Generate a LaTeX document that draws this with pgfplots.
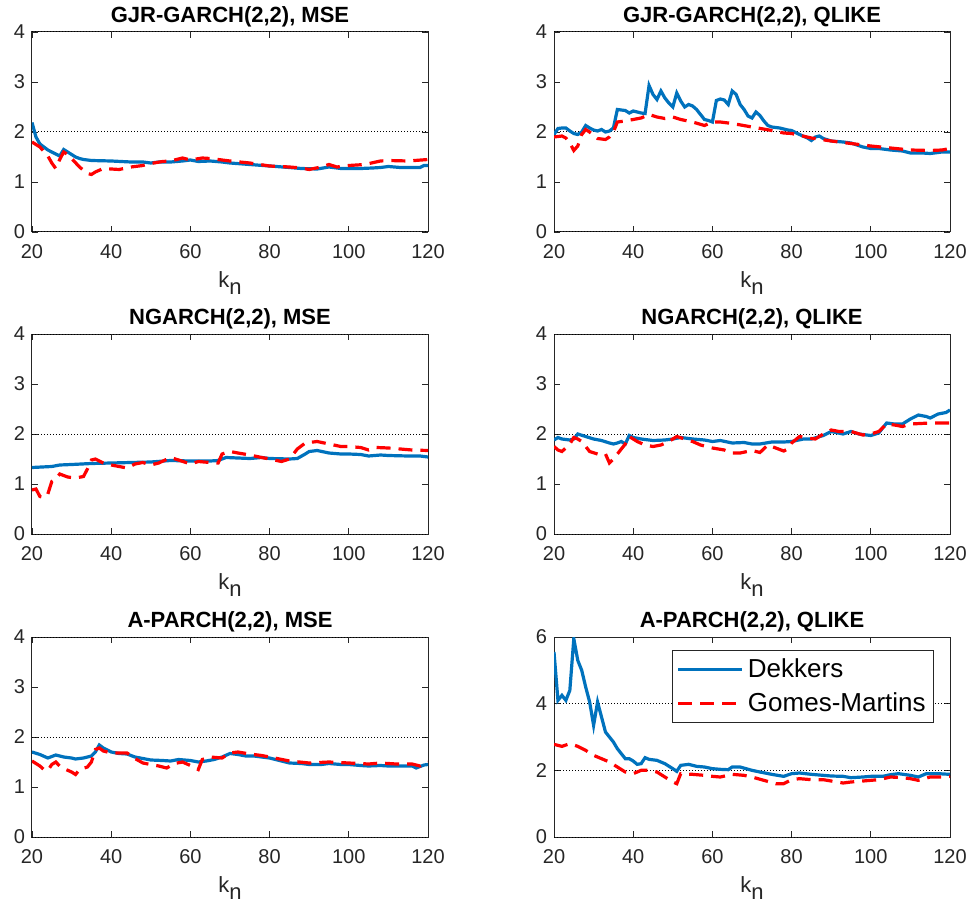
\documentclass[border=0pt]{standalone}
\usepackage{pgfplots}
\pgfplotsset{compat=1.18}
\usepackage{fontspec}
\setmainfont{Liberation Sans}
\definecolor{mblue}{rgb}{0,0.447,0.741}
\definecolor{mred}{rgb}{1,0,0}
\definecolor{mgray}{rgb}{0.15,0.15,0.15}
\pgfplotsset{
 panel/.style={
  width=198pt, height=100pt, scale only axis,
  anchor=south west,
  xmin=20, xmax=120, ymin=0, ymax=4,
  xtick={20,40,...,120}, ytick={0,1,2,3,4},
  tick align=inside, major tick length=3pt,
  every tick/.style={mgray, line width=0.4pt},
  axis line style={mgray, line width=0.5pt},
  tick label style={font=\fontsize{10}{12}\selectfont, text=mgray},
  xticklabel style={yshift=-2.5pt},
  /pgf/number format/assume math mode=true,
  title style={font=\bfseries\fontsize{11}{13}\selectfont, yshift=-7pt},
  xlabel={k\raisebox{-0.55ex}{n}},
  xlabel style={font=\fontsize{11}{13}\selectfont, text=mgray, yshift=0pt},
  clip=true,
 },
 dek/.style={mblue, line width=1.6pt},
 gm/.style={mred, line width=1.6pt, dash pattern=on 7pt off 4pt},
 refl/.style={black, line width=0.5pt, dash pattern=on 0.5pt off 1pt, forget plot},
}
\begin{document}
\begin{tikzpicture}
\path[use as bounding box] (0pt,0pt) rectangle (484.5pt,-451.5pt);
% Panel 1
\begin{axis}[panel, at={(16pt,-116pt)}, title={GJR-GARCH(2,2), MSE}]
\addplot[refl] coordinates {(20,2) (120,2)};
\addplot[refl] coordinates {(20,4) (120,4)};
\addplot[refl] coordinates {(20,0) (120,0)};
\addplot[dek] coordinates {(20,2.19)(21,1.9)(22,1.76)(23,1.7)(24,1.64)(25,1.6)(26,1.56)(27,1.52)(28,1.65)(29,1.6)(30,1.55)(31,1.5)(32,1.47)(33,1.45)(35,1.43)(40,1.42)(45,1.4)(48,1.4)(50,1.38)(52,1.4)(55,1.4)(58,1.42)(60,1.44)(62,1.41)(65,1.42)(68,1.4)(70,1.38)(75,1.35)(80,1.32)(85,1.29)(88,1.27)(92,1.26)(95,1.3)(98,1.27)(100,1.27)(103,1.27)(106,1.28)(108,1.29)(110,1.31)(113,1.29)(116,1.29)(118,1.29)(119,1.33)(120,1.33)};
\addplot[gm] coordinates {(20,1.8)(22,1.7)(24,1.52)(25,1.38)(26,1.27)(27,1.45)(28,1.6)(29,1.55)(30,1.47)(32,1.3)(34,1.17)(35,1.15)(36,1.2)(38,1.27)(40,1.26)(42,1.25)(45,1.3)(48,1.33)(50,1.37)(53,1.41)(55,1.42)(58,1.48)(60,1.44)(63,1.48)(65,1.47)(70,1.42)(75,1.38)(80,1.32)(85,1.3)(88,1.28)(90,1.25)(93,1.3)(95,1.35)(97,1.3)(100,1.33)(104,1.35)(108,1.42)(110,1.43)(115,1.42)(120,1.45)};
\end{axis}
% Panel 2
\begin{axis}[panel, at={(277pt,-116pt)}, title={GJR-GARCH(2,2), QLIKE}]
\addplot[refl] coordinates {(20,2) (120,2)};
\addplot[refl] coordinates {(20,4) (120,4)};
\addplot[refl] coordinates {(20,0) (120,0)};
\addplot[dek] coordinates {(20,1.95)(21,2.07)(22,2.08)(23,2.08)(24,2.02)(25,1.97)(26,1.95)(27,2.0)(28,2.13)(29,2.08)(30,2.04)(31,2.02)(32,2.05)(33,2.0)(34,2.02)(35,2.08)(36,2.45)(37,2.44)(38,2.43)(39,2.38)(40,2.42)(41,2.4)(42,2.38)(43,2.37)(44,2.93)(45,2.75)(46,2.65)(47,2.82)(48,2.68)(49,2.58)(50,2.5)(51,2.78)(52,2.62)(53,2.5)(54,2.55)(55,2.52)(56,2.45)(57,2.35)(58,2.25)(59,2.23)(60,2.2)(61,2.63)(62,2.66)(63,2.64)(64,2.55)(65,2.82)(66,2.75)(67,2.55)(68,2.45)(69,2.32)(70,2.28)(71,2.4)(72,2.33)(73,2.22)(74,2.13)(75,2.1)(77,2.08)(79,2.04)(80,2.03)(82,1.95)(84,1.88)(85,1.83)(86,1.9)(87,1.92)(88,1.87)(90,1.82)(93,1.8)(95,1.78)(98,1.7)(100,1.67)(102,1.67)(105,1.64)(108,1.62)(110,1.58)(113,1.58)(115,1.57)(118,1.6)(120,1.6)};
\addplot[gm] coordinates {(20,1.9)(22,1.92)(23,1.88)(24,1.78)(25,1.63)(26,1.72)(27,1.95)(28,2.05)(29,2.0)(30,1.93)(31,1.87)(33,1.85)(34,1.9)(35,2.0)(36,2.2)(38,2.22)(40,2.25)(42,2.28)(44,2.35)(46,2.3)(48,2.27)(50,2.3)(52,2.25)(55,2.2)(58,2.13)(60,2.2)(62,2.2)(65,2.17)(70,2.1)(75,2.03)(78,1.98)(80,1.97)(85,1.88)(90,1.82)(95,1.77)(100,1.72)(105,1.68)(110,1.64)(115,1.63)(118,1.64)(120,1.67)};
\end{axis}
% Panel 3
\begin{axis}[panel, at={(16pt,-267pt)}, title={NGARCH(2,2), MSE}]
\addplot[refl] coordinates {(20,2) (120,2)};
\addplot[refl] coordinates {(20,4) (120,4)};
\addplot[refl] coordinates {(20,0) (120,0)};
\addplot[dek] coordinates {(20,1.33)(25,1.35)(27,1.38)(30,1.39)(35,1.41)(40,1.42)(45,1.43)(50,1.44)(55,1.47)(60,1.46)(65,1.46)(67,1.47)(69,1.53)(72,1.52)(75,1.51)(78,1.53)(80,1.51)(85,1.5)(87,1.51)(89,1.6)(90,1.65)(92,1.67)(95,1.62)(98,1.6)(100,1.6)(103,1.59)(105,1.56)(108,1.58)(110,1.57)(115,1.56)(118,1.56)(120,1.54)};
\addplot[gm] coordinates {(20,0.88)(21,0.9)(22,0.75)(23,0.73)(24,0.8)(25,1.05)(26,1.1)(27,1.2)(29,1.14)(31,1.12)(33,1.15)(34,1.3)(35,1.48)(36,1.5)(38,1.42)(40,1.38)(42,1.35)(44,1.32)(46,1.4)(48,1.43)(50,1.38)(52,1.42)(55,1.53)(57,1.48)(60,1.4)(62,1.45)(65,1.43)(67,1.42)(68,1.6)(70,1.65)(72,1.62)(75,1.58)(78,1.53)(80,1.5)(83,1.45)(85,1.5)(87,1.7)(89,1.82)(92,1.85)(95,1.8)(98,1.75)(100,1.75)(103,1.73)(105,1.68)(107,1.73)(110,1.72)(113,1.7)(116,1.68)(120,1.67)};
\end{axis}
% Panel 4
\begin{axis}[panel, at={(277pt,-267pt)}, title={NGARCH(2,2), QLIKE}]
\addplot[refl] coordinates {(20,2) (120,2)};
\addplot[refl] coordinates {(20,4) (120,4)};
\addplot[refl] coordinates {(20,0) (120,0)};
\addplot[dek] coordinates {(20,1.88)(21,1.93)(22,1.9)(24,1.88)(25,1.9)(26,2.0)(28,1.95)(30,1.9)(32,1.87)(34,1.82)(35,1.8)(36,1.82)(37,1.85)(38,1.8)(39,1.97)(40,1.93)(42,1.9)(45,1.87)(48,1.88)(50,1.9)(52,1.93)(55,1.9)(58,1.88)(60,1.85)(62,1.87)(65,1.82)(68,1.83)(70,1.8)(72,1.8)(75,1.84)(78,1.84)(80,1.85)(83,1.9)(85,1.9)(88,1.97)(90,2.05)(93,2.0)(95,2.05)(97,2.0)(100,1.97)(102,2.02)(104,2.22)(106,2.2)(108,2.2)(110,2.3)(112,2.38)(114,2.35)(115,2.32)(117,2.4)(119,2.43)(120,2.48)};
\addplot[gm] coordinates {(20,1.75)(21,1.68)(22,1.65)(24,1.8)(25,1.93)(26,1.9)(27,1.85)(29,1.65)(31,1.6)(33,1.6)(34,1.42)(35,1.5)(37,1.7)(38,1.8)(39,1.95)(41,1.85)(43,1.78)(45,1.75)(47,1.78)(49,1.85)(51,1.95)(53,1.9)(55,1.85)(57,1.78)(60,1.72)(63,1.68)(65,1.62)(67,1.62)(70,1.67)(72,1.63)(74,1.78)(76,1.72)(78,1.66)(79,1.7)(80,1.82)(82,1.95)(84,1.92)(86,1.9)(88,2.0)(90,2.08)(92,2.05)(95,2.05)(98,1.98)(100,2.0)(102,2.05)(104,2.2)(106,2.18)(108,2.15)(110,2.2)(115,2.22)(120,2.22)};
\end{axis}
% Panel 5
\begin{axis}[panel, at={(16pt,-418.5pt)}, title={A-PARCH(2,2), MSE}]
\addplot[refl] coordinates {(20,2) (120,2)};
\addplot[refl] coordinates {(20,4) (120,4)};
\addplot[refl] coordinates {(20,0) (120,0)};
\addplot[dek] coordinates {(20,1.7)(22,1.65)(24,1.58)(26,1.64)(28,1.6)(30,1.58)(31,1.56)(33,1.58)(35,1.62)(36,1.7)(37,1.84)(38,1.78)(40,1.7)(42,1.67)(44,1.66)(46,1.6)(48,1.57)(50,1.54)(53,1.53)(55,1.52)(57,1.55)(60,1.53)(62,1.5)(64,1.52)(66,1.55)(68,1.6)(70,1.67)(72,1.65)(74,1.62)(76,1.62)(78,1.6)(80,1.58)(83,1.52)(85,1.48)(88,1.47)(90,1.45)(93,1.45)(95,1.47)(98,1.45)(100,1.45)(103,1.43)(105,1.42)(108,1.43)(110,1.42)(113,1.42)(116,1.42)(117,1.38)(119,1.44)(120,1.45)};
\addplot[gm] coordinates {(20,1.52)(22,1.42)(23,1.35)(24,1.33)(25,1.45)(26,1.5)(27,1.42)(28,1.37)(30,1.3)(31,1.25)(32,1.35)(34,1.4)(35,1.5)(36,1.75)(37,1.78)(38,1.72)(40,1.68)(42,1.68)(44,1.68)(46,1.57)(48,1.48)(50,1.45)(52,1.42)(54,1.38)(56,1.47)(58,1.5)(60,1.43)(62,1.35)(63,1.55)(65,1.6)(68,1.58)(70,1.68)(72,1.7)(75,1.66)(78,1.63)(80,1.6)(85,1.52)(90,1.48)(95,1.5)(100,1.48)(105,1.46)(108,1.48)(112,1.46)(116,1.46)(118,1.42)(120,1.5)};
\end{axis}
% Panel 6
\begin{axis}[panel, at={(277pt,-418.5pt)}, title={A-PARCH(2,2), QLIKE},
  ymax=6, ytick={0,2,4,6},
  legend style={at={(rel axis cs:0.96,0.935)}, anchor=north east,
    font=\fontsize{13}{15}\selectfont, draw=mgray, line width=0.5pt,
    text=black, inner sep=2pt, row sep=2pt},
  legend cell align=left,
  legend image code/.code={\draw[#1] (0pt,0pt) -- (32pt,0pt);}]
\addplot[refl] coordinates {(20,2) (120,2)};
\addplot[refl] coordinates {(20,4) (120,4)};
\addplot[refl] coordinates {(20,0) (120,0)};
\addplot[dek] coordinates {(20,5.55)(21,4.1)(22,4.25)(23,4.1)(24,4.4)(25,5.95)(26,5.3)(27,5.0)(28,4.5)(29,4.05)(30,3.35)(31,4.05)(32,3.6)(33,3.15)(34,3.0)(35,2.85)(36,2.65)(37,2.5)(38,2.35)(39,2.35)(40,2.28)(41,2.18)(42,2.2)(43,2.38)(44,2.33)(46,2.3)(48,2.2)(50,2.05)(51,1.97)(52,2.15)(54,2.18)(56,2.12)(58,2.1)(60,2.05)(62,2.03)(64,2.02)(65,2.1)(67,2.1)(70,2.0)(72,1.95)(75,1.88)(78,1.82)(80,1.9)(82,1.92)(85,1.88)(88,1.85)(90,1.83)(93,1.82)(95,1.78)(98,1.8)(100,1.82)(103,1.82)(105,1.87)(107,1.9)(110,1.85)(112,1.8)(114,1.9)(117,1.9)(120,1.88)};
\addlegendentry{Dekkers}
\addplot[gm] coordinates {(20,2.78)(22,2.72)(24,2.8)(26,2.72)(28,2.6)(30,2.45)(32,2.35)(34,2.25)(36,2.1)(38,1.95)(40,1.9)(42,2.0)(44,2.0)(46,1.95)(48,1.8)(50,1.65)(51,1.6)(52,1.9)(55,1.88)(58,1.85)(60,1.82)(62,1.8)(65,1.88)(68,1.85)(70,1.8)(73,1.7)(76,1.6)(78,1.6)(80,1.72)(82,1.75)(85,1.72)(88,1.72)(90,1.68)(93,1.62)(95,1.65)(98,1.68)(100,1.7)(102,1.72)(105,1.8)(108,1.78)(110,1.75)(112,1.7)(115,1.8)(118,1.8)(120,1.82)};
\addlegendentry{Gomes-Martins}
\end{axis}
\end{tikzpicture}
\end{document}
